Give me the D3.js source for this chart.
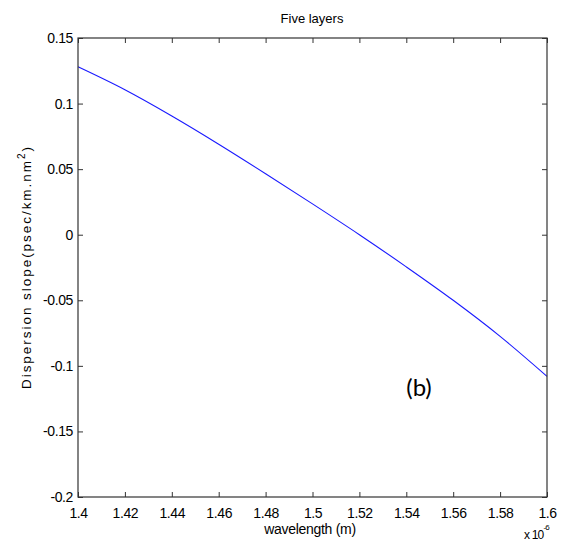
<!DOCTYPE html>
<html>
<head>
<meta charset="utf-8">
<script src="https://cdn.jsdelivr.net/npm/d3@7"></script>
<style>
  html, body { margin: 0; padding: 0; background: #fff; }
  svg { display: block; }
  .tick text, .lbl { font-family: "Liberation Sans", Arial, sans-serif; fill: #000; }
</style>
</head>
<body>
<svg id="chart" width="564" height="557"></svg>
<script>
// Wavelength samples (units of 1e-6 m) and the dispersion slope at each one
const wavelength = [1.40, 1.42, 1.44, 1.46, 1.48, 1.50, 1.52, 1.54, 1.56, 1.58, 1.60];
const dispersionSlope = [0.128, 0.1105, 0.0905, 0.069, 0.0465, 0.0235, 0.000, -0.0245, -0.050, -0.0775, -0.108];

// Axis ticks and their printed labels
const xTicks = [1.40, 1.42, 1.44, 1.46, 1.48, 1.50, 1.52, 1.54, 1.56, 1.58, 1.60];
const xTickLabels = ["1.4", "1.42", "1.44", "1.46", "1.48", "1.5", "1.52", "1.54", "1.56", "1.58", "1.6"];
const yTicks = [0.15, 0.10, 0.05, 0, -0.05, -0.10, -0.15, -0.20];
const yTickLabels = ["0.15", "0.1", "0.05", "0", "-0.05", "-0.1", "-0.15", "-0.2"];

const svg = d3.select("#chart");
const plotL = 78, plotR = 547, plotT = 38, plotB = 497;
const axisColor = "#333";

const x = d3.scaleLinear().domain([1.4, 1.6]).range([plotL, plotR]);
const y = d3.scaleLinear().domain([-0.2, 0.15]).range([plotB, plotT]);

// Curve
const pts = wavelength.map((w, i) => [w, dispersionSlope[i]]);
svg.append("path")
  .datum(pts)
  .attr("fill", "none")
  .attr("stroke", "#1a1aff")
  .attr("stroke-width", 1.1)
  .attr("d", d3.line().x(d => x(d[0])).y(d => y(d[1])).curve(d3.curveMonotoneX));

// Axes with inward ticks on all four sides
function styleAxis(g) {
  g.select(".domain").remove();
  g.selectAll(".tick line").attr("stroke", axisColor);
  g.selectAll(".tick text").attr("font-size", 14).attr("letter-spacing", -0.4);
}
svg.append("g").attr("transform", `translate(0,${plotB})`)
  .call(d3.axisBottom(x).tickValues(xTicks).tickFormat((d, i) => xTickLabels[i]).tickSize(-5).tickPadding(11))
  .call(styleAxis);
svg.append("g").attr("transform", `translate(0,${plotT})`)
  .call(d3.axisTop(x).tickValues(xTicks).tickFormat("").tickSize(-5))
  .call(styleAxis);
svg.append("g").attr("transform", `translate(${plotL},0)`)
  .call(d3.axisLeft(y).tickValues(yTicks).tickFormat((d, i) => yTickLabels[i]).tickSize(-5).tickPadding(5))
  .call(styleAxis);
svg.append("g").attr("transform", `translate(${plotR},0)`)
  .call(d3.axisRight(y).tickValues(yTicks).tickFormat("").tickSize(-5))
  .call(styleAxis);

// Plot box
svg.append("rect")
  .attr("x", plotL).attr("y", plotT)
  .attr("width", plotR - plotL).attr("height", plotB - plotT)
  .attr("fill", "none").attr("stroke", axisColor).attr("stroke-width", 1.2);

// Title and axis labels
svg.append("text").attr("class", "lbl")
  .attr("x", 312).attr("y", 23).attr("text-anchor", "middle")
  .attr("font-size", 13).text("Five layers");

svg.append("text").attr("class", "lbl")
  .attr("x", 310).attr("y", 534).attr("text-anchor", "middle")
  .attr("font-size", 14).attr("letter-spacing", -0.3).text("wavelength (m)");

const yl = svg.append("text").attr("class", "lbl")
  .attr("transform", "translate(31,268) rotate(-90)")
  .attr("text-anchor", "middle")
  .attr("font-size", 13.5)
  .attr("textLength", 242).attr("lengthAdjust", "spacing");
yl.append("tspan").text("Dispersion slope(psec/km.nm");
yl.append("tspan").attr("font-size", 10).attr("dy", -6).text("2");
yl.append("tspan").attr("dy", 6).text(")");

// Exponent for the wavelength axis
const ex = svg.append("text").attr("class", "lbl")
  .attr("x", 524).attr("y", 539).attr("font-size", 12).attr("letter-spacing", -0.8);
ex.append("tspan").text("x 10");
ex.append("tspan").attr("font-size", 8).attr("dy", -9).text("-6");

// Panel tag
svg.append("text")
  .attr("x", 419).attr("y", 396).attr("text-anchor", "middle")
  .attr("font-family", "Lato, 'Open Sans', 'Liberation Sans', sans-serif")
  .attr("font-size", 24).attr("fill", "#000")
  .text("(b)");
</script>
</body>
</html>
